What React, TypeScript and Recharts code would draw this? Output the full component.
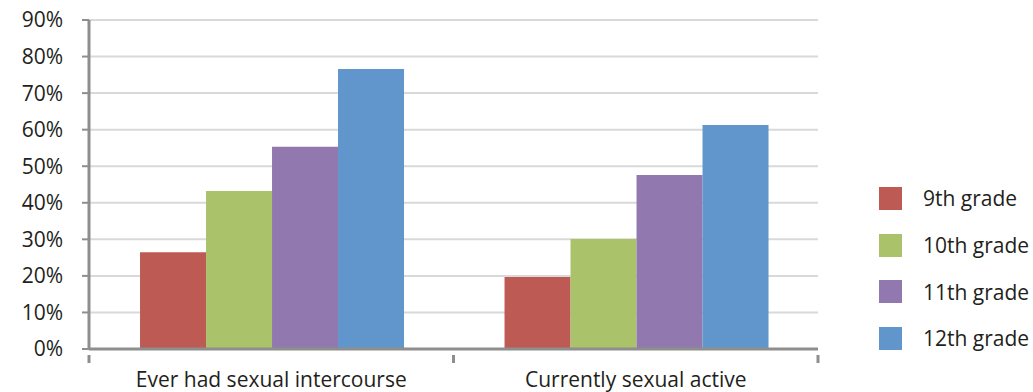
import { Bar, BarChart, CartesianGrid, Legend, XAxis, YAxis } from "recharts";

const categories = ["Ever had sexual intercourse", "Currently sexual active"];
const grades = ["9th grade", "10th grade", "11th grade", "12th grade"];
const grade9 = [26.5, 19.7];
const grade10 = [43.2, 30.1];
const grade11 = [55.3, 47.6];
const grade12 = [76.6, 61.3];
const yTicks = [0, 10, 20, 30, 40, 50, 60, 70, 80, 90];

const colors = ["#BE5A54", "#AAC36B", "#9179AF", "#6096CC"];
const font = "'Open Sans', sans-serif";
const chartWidth = 1033;
const legendWidth = 154;
const rightMargin = 215 - legendWidth;
const yAxisWidth = 89;
const plotWidth = chartWidth - legendWidth - rightMargin - yAxisWidth;
const halfBand = plotWidth / categories.length / 2;

const data = categories.map((name, i) => ({
  name,
  g9: grade9[i],
  g10: grade10[i],
  g11: grade11[i],
  g12: grade12[i],
}));

const keys = ["g9", "g10", "g11", "g12"];

function CategoryTick(props: any) {
  const { x, y, payload } = props;
  const top = y - 17;
  return (
    <g>
      <line x1={x - halfBand} x2={x - halfBand} y1={top} y2={top + 8} stroke="#8E8E8E" strokeWidth={3} />
      <line x1={x + halfBand} x2={x + halfBand} y1={top} y2={top + 8} stroke="#8E8E8E" strokeWidth={3} />
      <text
        x={x}
        y={y}
        dy="0.71em"
        textAnchor="middle"
        fontSize={21}
        fontFamily={font}
        fill="#231f20"
      >
        {payload.value}
      </text>
    </g>
  );
}

function LegendBox() {
  return (
    <div style={{ fontFamily: font, fontSize: 21, color: "#231f20" }}>
      {grades.map((g, i) => (
        <div
          key={g}
          style={{ display: "flex", alignItems: "center", height: 46.7 }}
        >
          <span
            style={{
              width: 23,
              height: 23,
              background: colors[i],
              display: "inline-block",
              marginRight: 21,
              flexShrink: 0,
            }}
          />
          <span style={{ whiteSpace: "nowrap" }}>{g}</span>
        </div>
      ))}
    </div>
  );
}

export default function App() {
  return (
    <div style={{ position: "absolute", left: 0, top: 0 }}>
      <BarChart
        width={chartWidth}
        height={392}
        data={data}
        margin={{ top: 20, right: rightMargin, left: 0, bottom: 0 }}
        barCategoryGap="14%"
        barGap={0}
      >
        <CartesianGrid
          vertical={false}
          stroke="#D9D9D9"
          strokeWidth={2}
        />
        <XAxis
          dataKey="name"
          height={43}
          tickLine={false}
          axisLine={{ stroke: "#8E8E8E", strokeWidth: 3 }}
          tickMargin={17}
          tick={<CategoryTick />}
        />
        <YAxis
          width={yAxisWidth}
          domain={[0, 90]}
          ticks={yTicks}
          tickFormatter={(v) => `${v}%`}
          axisLine={{ stroke: "#8E8E8E", strokeWidth: 3 }}
          tickLine={{ stroke: "#8E8E8E", strokeWidth: 2 }}
          tickSize={7}
          tickMargin={19}
          tick={{ fontSize: 21, fill: "#231f20", fontFamily: font }}
        />
        <Legend
          layout="vertical"
          align="right"
          verticalAlign="top"
          content={<LegendBox />}
          wrapperStyle={{ left: 879, top: 175, width: legendWidth }}
        />
        {keys.map((k, i) => (
          <Bar
            key={k}
            dataKey={k}
            name={grades[i]}
            fill={colors[i]}
            isAnimationActive={false}
          />
        ))}
      </BarChart>
    </div>
  );
}
